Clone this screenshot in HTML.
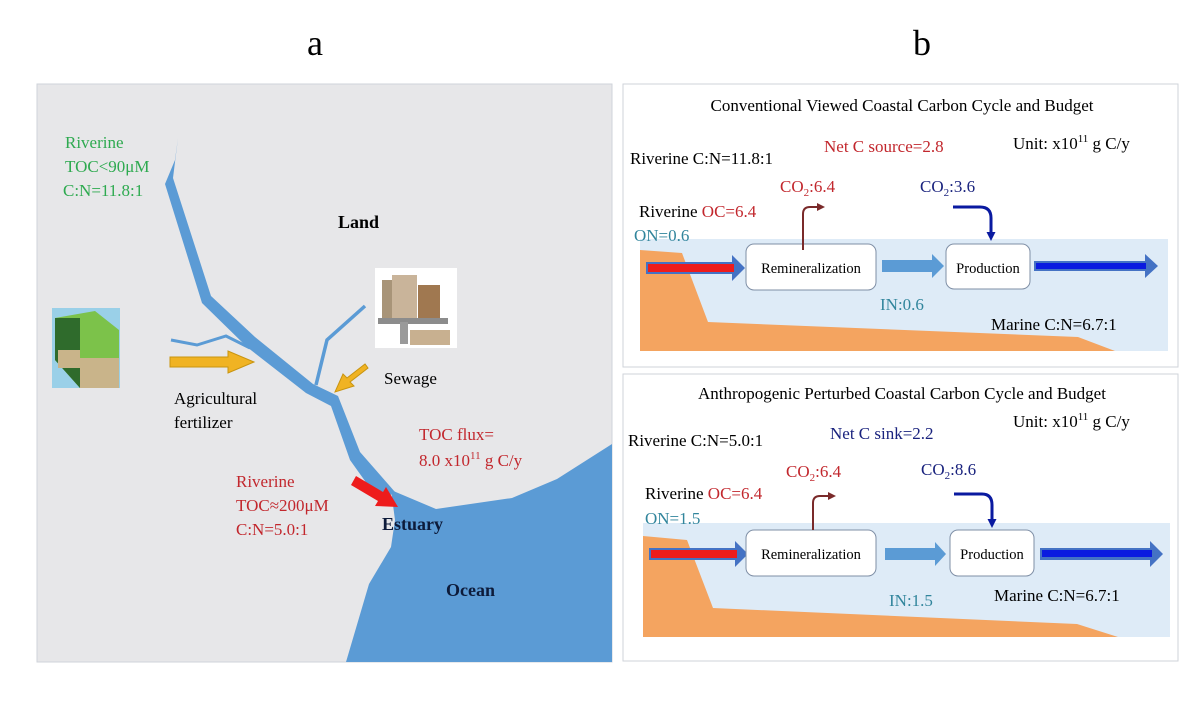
<!DOCTYPE html>
<html><head><meta charset="utf-8"><style>
body{margin:0;background:#fff;}
svg{display:block;font-family:"Liberation Serif",serif;}
</style></head><body>
<svg width="1200" height="703" viewBox="0 0 1200 703">
<defs>
<marker id="ab" markerWidth="8" markerHeight="8" refX="4" refY="4" orient="auto" markerUnits="userSpaceOnUse"><path d="M0,0 L8,4 L0,8 z" fill="#7a2a2a"/></marker>
<marker id="bb" markerWidth="9" markerHeight="9" refX="4" refY="4.5" orient="auto" markerUnits="userSpaceOnUse"><path d="M0,0 L9,4.5 L0,9 z" fill="#0a1aa0"/></marker>
</defs>
<text x="315" y="55" font-size="36" text-anchor="middle">a</text>
<text x="922" y="55" font-size="36" text-anchor="middle">b</text>

<!-- Panel a -->
<rect x="37" y="84" width="575" height="578" fill="#e7e7e9" stroke="#cfd3da"/>
<path d="M612,444 L557,479 L512,498 L436,509 L391,490 L395,520 L391,547 L369,584 L346,662 L612,662 Z" fill="#5b9bd5"/>
<path d="M178,138 L173,178 L211,296 L255,337 L313,384 L338,396 L360,452 L395,492 L380,502 L350,460 L331,406 L306,393 L247,347 L202,303 L165,184 L175,160 Z" fill="#5b9bd5"/>
<path d="M171,340 L197,345 L226,336 L250,348" stroke="#5b9bd5" stroke-width="3" fill="none"/>
<path d="M365,306 L327,340 L316,385" stroke="#5b9bd5" stroke-width="3.5" fill="none"/>
<!-- agriculture image -->
<rect x="52" y="308" width="68" height="80" fill="#9ad0e8"/>
<polygon points="55,318 95,311 119,330 119,388 80,388 55,360" fill="#7cc24a"/>
<polygon points="55,318 80,318 80,388 55,360" fill="#2f6b2c"/>
<rect x="80" y="358" width="39" height="30" fill="#c9b48a"/>
<rect x="58" y="350" width="22" height="18" fill="#c9b48a"/>
<!-- sewage image -->
<rect x="375" y="268" width="82" height="80" fill="#fff"/>
<rect x="382" y="280" width="28" height="40" fill="#a89478"/>
<rect x="392" y="275" width="25" height="45" fill="#c9b49a"/>
<rect x="418" y="285" width="22" height="35" fill="#a07850"/>
<rect x="378" y="318" width="70" height="6" fill="#8c8c8c"/>
<rect x="410" y="330" width="40" height="15" fill="#c8b090"/>
<rect x="400" y="322" width="8" height="22" fill="#9a9a9a"/>
<!-- yellow arrows -->
<polygon points="170,357 228,357 228,351 254,362 228,373 228,367 170,367" fill="#f0b323" stroke="#c89410"/>
<polygon points="365,364 347,378 343,374 335,392 354,386 350,382 368,368" fill="#f0b323" stroke="#c89410"/>
<!-- red arrow -->
<polygon points="356,476 383,492 386,487 398,507 375,506 378,501 351,485" fill="#ee1c1c"/>
<g font-size="17">
<text x="65" y="148" fill="#2eaa50">Riverine</text>
<text x="65" y="172" fill="#2eaa50">TOC&lt;90μM</text>
<text x="63" y="196" fill="#2eaa50">C:N=11.8:1</text>
<text x="338" y="228" font-weight="bold" font-size="18">Land</text>
<text x="384" y="384">Sewage</text>
<text x="174" y="404">Agricultural</text>
<text x="174" y="428">fertilizer</text>
<text x="419" y="440" fill="#c2272d">TOC flux=</text>
<text x="419" y="466" fill="#c2272d">8.0 x10<tspan font-size="11" dy="-7">11</tspan><tspan dy="7"> g C/y</tspan></text>
<text x="236" y="487" fill="#c2272d">Riverine</text>
<text x="236" y="511" fill="#c2272d">TOC≈200μM</text>
<text x="236" y="535" fill="#c2272d">C:N=5.0:1</text>
<text x="382" y="530" font-weight="bold" font-size="18" fill="#0d1b3a">Estuary</text>
<text x="446" y="596" font-weight="bold" font-size="18" fill="#0d1b3a">Ocean</text>
</g>

<!-- Panel b top -->
<rect x="623" y="84" width="555" height="283" fill="#fff" stroke="#cfd3da"/>
<rect x="640" y="239" width="528" height="112" fill="#deebf7"/>
<polygon points="640,250 682,253 708,322 1078,337 1115,351 640,351" fill="#f4a460"/>
<polygon points="646,262 732,262 732,255 745,268 732,281 732,274 646,274" fill="#4472c4"/>
<rect x="648" y="264" width="86" height="8" fill="#ee1c1c"/>
<rect x="746" y="244" width="130" height="46" rx="8" fill="#fff" stroke="#7f8fa6"/>
<text x="811" y="273" font-size="14.5" text-anchor="middle">Remineralization</text>
<polygon points="882,260 932,260 932,254 944,266 932,278 932,272 882,272" fill="#5b9bd5"/>
<rect x="946" y="244" width="84" height="45" rx="8" fill="#fff" stroke="#7f8fa6"/>
<text x="988" y="273" font-size="14.5" text-anchor="middle">Production</text>
<polygon points="1034,261 1145,261 1145,254 1158,266 1145,278 1145,271 1034,271" fill="#4472c4"/>
<rect x="1036" y="263" width="110" height="6" fill="#0a1ae0"/>
<path d="M803,250 L803,214 Q803,207 810,207 L821,207" stroke="#7a2a2a" stroke-width="2" fill="none" marker-end="url(#ab)"/>
<path d="M953,207 L980,207 Q991,207 991,218 L991,236" stroke="#0a1aa0" stroke-width="3" fill="none" marker-end="url(#bb)"/>
<g font-size="17">
<text x="902" y="111" text-anchor="middle">Conventional Viewed Coastal Carbon Cycle and Budget</text>
<text x="824" y="152" fill="#c2272d">Net C source=2.8</text>
<text x="1013" y="149">Unit: x10<tspan font-size="11" dy="-7">11</tspan><tspan dy="7"> g C/y</tspan></text>
<text x="630" y="164">Riverine C:N=11.8:1</text>
<text x="780" y="192" fill="#c2272d">CO<tspan font-size="11" dy="4">2</tspan><tspan dy="-4">:6.4</tspan></text>
<text x="920" y="192" fill="#1a237e">CO<tspan font-size="11" dy="4">2</tspan><tspan dy="-4">:3.6</tspan></text>
<text x="639" y="217">Riverine <tspan fill="#c2272d">OC=6.4</tspan></text>
<text x="634" y="241" fill="#31859c">ON=0.6</text>
<text x="880" y="310" fill="#31859c">IN:0.6</text>
<text x="991" y="330">Marine C:N=6.7:1</text>
</g>

<!-- Panel b bottom -->
<rect x="623" y="374" width="555" height="287" fill="#fff" stroke="#cfd3da"/>
<rect x="643" y="523" width="527" height="114" fill="#deebf7"/>
<polygon points="643,536 687,540 713,608 1077,624 1118,637 643,637" fill="#f4a460"/>
<polygon points="649,548 735,548 735,541 748,554 735,567 735,560 649,560" fill="#4472c4"/>
<rect x="651" y="550" width="86" height="8" fill="#ee1c1c"/>
<rect x="746" y="530" width="130" height="46" rx="8" fill="#fff" stroke="#7f8fa6"/>
<text x="811" y="559" font-size="14.5" text-anchor="middle">Remineralization</text>
<polygon points="885,548 935,548 935,542 946,554 935,566 935,560 885,560" fill="#5b9bd5"/>
<rect x="950" y="530" width="84" height="46" rx="8" fill="#fff" stroke="#7f8fa6"/>
<text x="992" y="559" font-size="14.5" text-anchor="middle">Production</text>
<polygon points="1040,548 1150,548 1150,541 1163,554 1150,567 1150,560 1040,560" fill="#4472c4"/>
<rect x="1042" y="550" width="110" height="7" fill="#0a1ae0"/>
<path d="M813,530 L813,503 Q813,496 820,496 L832,496" stroke="#7a2a2a" stroke-width="2" fill="none" marker-end="url(#ab)"/>
<path d="M954,494 L982,494 Q992,494 992,505 L992,523" stroke="#0a1aa0" stroke-width="3" fill="none" marker-end="url(#bb)"/>
<g font-size="17">
<text x="902" y="399" text-anchor="middle">Anthropogenic Perturbed Coastal Carbon Cycle and Budget</text>
<text x="1013" y="427">Unit: x10<tspan font-size="11" dy="-7">11</tspan><tspan dy="7"> g C/y</tspan></text>
<text x="830" y="439" fill="#1a237e">Net C sink=2.2</text>
<text x="628" y="446">Riverine C:N=5.0:1</text>
<text x="786" y="477" fill="#c2272d">CO<tspan font-size="11" dy="4">2</tspan><tspan dy="-4">:6.4</tspan></text>
<text x="921" y="475" fill="#1a237e">CO<tspan font-size="11" dy="4">2</tspan><tspan dy="-4">:8.6</tspan></text>
<text x="645" y="499">Riverine <tspan fill="#c2272d">OC=6.4</tspan></text>
<text x="645" y="524" fill="#31859c">ON=1.5</text>
<text x="889" y="606" fill="#31859c">IN:1.5</text>
<text x="994" y="601">Marine C:N=6.7:1</text>
</g>
</svg>
</body></html>
